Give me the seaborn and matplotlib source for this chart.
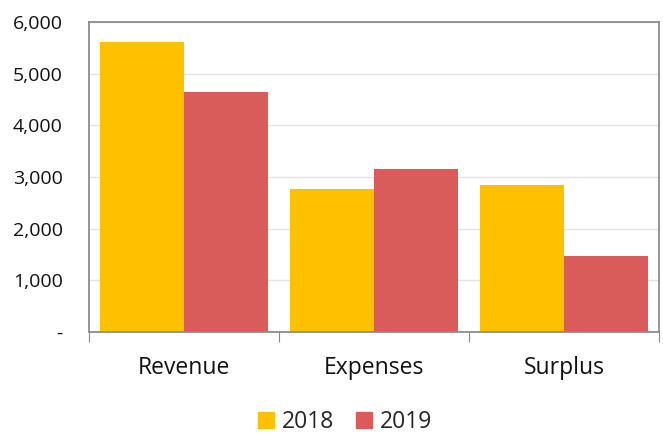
import matplotlib
matplotlib.use("Agg")
import matplotlib.pyplot as plt
import seaborn as sb
import pandas as pd
from matplotlib.ticker import FuncFormatter

categories = ["Revenue", "Expenses", "Surplus"]
years = ["2018", "2019"]
values_2018 = [5615, 2775, 2840]
values_2019 = [4640, 3155, 1470]

df = pd.DataFrame({
    "cat": categories * 2,
    "year": [years[0]] * 3 + [years[1]] * 3,
    "val": values_2018 + values_2019,
})

sb.set_style("white")
plt.rcParams["font.family"] = ["Open Sans", "DejaVu Sans"]

fig = plt.figure(figsize=(6.63, 4.34), dpi=100)
ax = fig.add_axes([89 / 663, 1 - 332 / 434, 570 / 663, 310 / 434])

sb.barplot(data=df, x="cat", y="val", hue="year", order=categories,
           palette=["#FFC000", "#D95C5B"], width=0.884, gap=0,
           saturation=1, ax=ax, legend=False, linewidth=0)

ax.set_xlim(-0.5, 2.5)
ax.set_ylim(0, 6000)
ax.set_yticks(range(0, 6001, 1000))
ax.yaxis.set_major_formatter(FuncFormatter(lambda v, p: "-" if v == 0 else f"{int(v):,}"))
ax.grid(axis="y", color="#E3E3E3", linewidth=1)
ax.set_axisbelow(True)
ax.tick_params(axis="y", length=0, labelsize=14, pad=19, labelcolor="#111111")

# category boundaries as ticks, labels on minor ticks
ax.set_xticks([-0.5, 0.5, 1.5, 2.5])
ax.set_xticklabels([])
ax.set_xticks([0, 1, 2], minor=True)
ax.set_xticklabels(categories, minor=True)
ax.tick_params(axis="x", which="major", length=7, color="#888888", direction="out", bottom=True)
ax.tick_params(axis="x", which="minor", length=0, labelsize=16.5, pad=17, labelcolor="#111111")

for s in ax.spines.values():
    s.set_color("#8C8C8C")
    s.set_linewidth(1.3)
ax.set_xlabel("")
ax.set_ylabel("")

handles = [plt.Rectangle((0, 0), 1, 1, color=c) for c in ["#FFC000", "#D95C5B"]]
fig.legend(handles, years, loc="center", bbox_to_anchor=(345 / 663, 1 - 422 / 434),
           ncol=2, frameon=False, fontsize=16.5, handlelength=0.7, handleheight=0.7,
           handletextpad=0.35, columnspacing=0.95)

fig.savefig("out.png", dpi=100)
